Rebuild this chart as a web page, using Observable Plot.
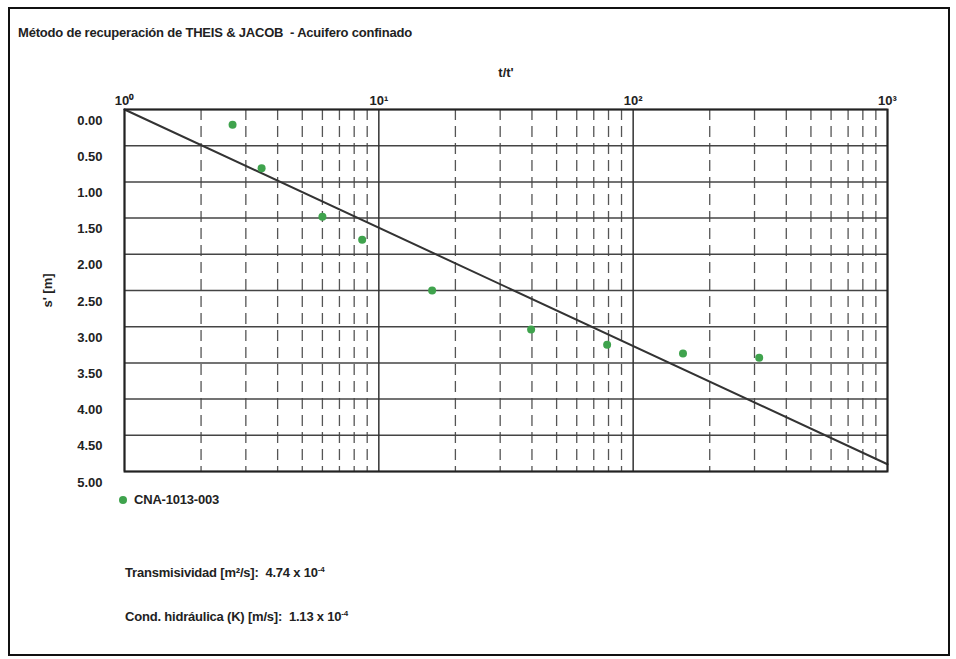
<!DOCTYPE html>
<html><head><meta charset="utf-8">
<script src="https://cdn.jsdelivr.net/npm/d3@7"></script>
<script src="https://cdn.jsdelivr.net/npm/@observablehq/plot@0.6"></script>
<style>
body{margin:0;background:#fff;font-family:"Liberation Sans",Arial,sans-serif;color:#222;}
#frame{position:absolute;left:8px;top:7px;width:938px;height:645px;border:2px solid #111;}
.t{position:absolute;font-weight:bold;font-size:13px;white-space:nowrap;letter-spacing:-0.2px;}
#chart{position:absolute;left:0;top:0;}
.dot{position:absolute;width:8px;height:8px;border-radius:50%;background:#3fa34d;}
</style></head>
<body>
<div id="frame"></div>
<div id="chart"></div>
<div class="t" style="left:18px;top:25px;">Método de recuperación de THEIS &amp; JACOB&nbsp; - Acuifero confinado</div>
<div class="dot" style="left:119px;top:496px;"></div>
<div class="t" style="left:134px;top:492px;">CNA-1013-003</div>
<div class="t" style="left:125px;top:565px;">Transmisividad [m²/s]:&nbsp; 4.74 x 10<sup style="font-size:8px">-4</sup></div>
<div class="t" style="left:125px;top:609px;">Cond. hidráulica (K) [m/s]:&nbsp; 1.13 x 10<sup style="font-size:8px">-4</sup></div>
<script>
// data
const tRatio = [2.66, 3.46, 6.0, 8.6, 16.2, 39.7, 79, 157, 313];
const sPrime = [0.21, 0.81, 1.48, 1.80, 2.50, 3.04, 3.25, 3.37, 3.43];
const lineX = [1, 1000];
const lineY = [0, 4.9];
const decades = [1, 10, 100, 1000];
const decadeLabels = ["10⁰", "10¹", "10²", "10³"];
const minorMult = [2, 3, 4, 5, 6, 7, 8, 9];
const yTicks = [0, 0.5, 1, 1.5, 2, 2.5, 3, 3.5, 4, 4.5, 5];

const points = tRatio.map((t, i) => ({t, s: sPrime[i]}));
const fit = lineX.map((t, i) => ({t, s: lineY[i]}));
const minor = decades.slice(0, 3).flatMap(d => minorMult.map(m => d * m));
const decadeRows = decades.map((d, i) => ({t: d, label: decadeLabels[i]}));

const plot = Plot.plot({
  width: 956, height: 520,
  marginLeft: 124, marginRight: 69, marginTop: 109, marginBottom: 49,
  style: {fontFamily: "Liberation Sans, Arial, sans-serif", fontWeight: "bold", fontSize: "13px", color: "#222", background: "transparent"},
  x: {type: "log", domain: [1, 1000]},
  y: {domain: [0, 5], reverse: true},
  marks: [
    Plot.ruleX(minor, {stroke: "#555", strokeWidth: 1.3, strokeDasharray: "11,6", strokeOpacity: 1}),
    Plot.ruleY(yTicks, {stroke: "#444", strokeWidth: 1.5}),
    Plot.ruleX(decades, {stroke: "#333", strokeWidth: 1.5}),
    Plot.line(fit, {x: "t", y: "s", stroke: "#333", strokeWidth: 2}),
    Plot.dot(points, {x: "t", y: "s", r: 4, fill: "#3fa34d", stroke: "none"}),
    Plot.frame({stroke: "#222", strokeWidth: 2}),
    Plot.text(decadeRows, {x: "t", text: "label", frameAnchor: "top", dy: -14, fontSize: 13, fontWeight: "bold", fill: "#222"}),
    Plot.axisX({anchor: "top", ticks: [], tickSize: 0,
      label: "t/t'", labelAnchor: "center", labelArrow: "none", labelOffset: 42}),
    Plot.axisY({anchor: "left", ticks: yTicks, tickFormat: d => d.toFixed(2), tickSize: 0, tickPadding: 22, dy: 11, fontSize: 13,
      label: "s' [m]", labelAnchor: "center", labelArrow: "none", labelOffset: 82})
  ]
});
document.getElementById("chart").appendChild(plot);
</script>
</body></html>
